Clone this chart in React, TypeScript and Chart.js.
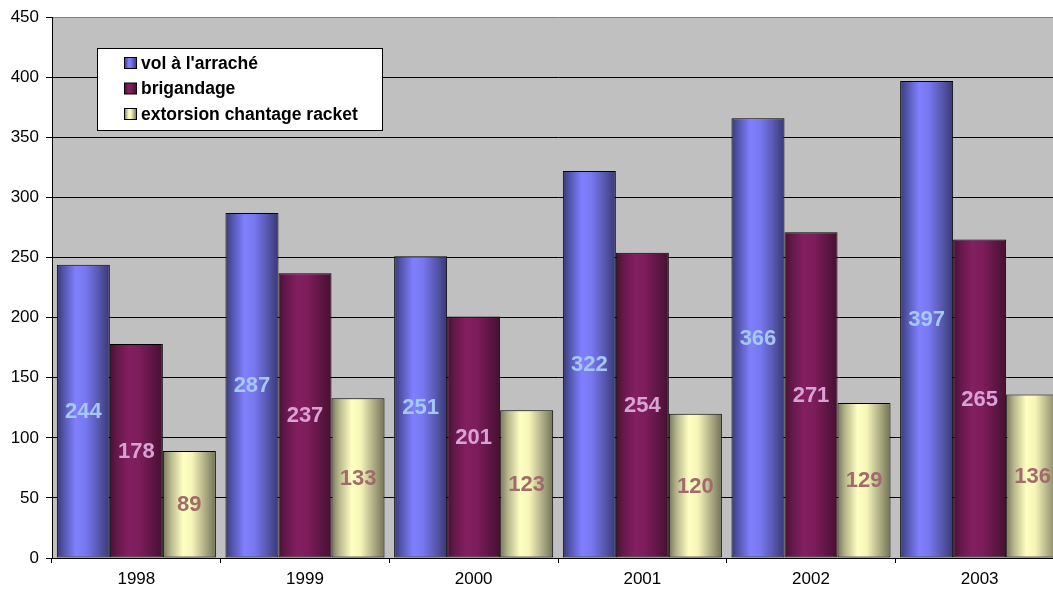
import React, { useEffect, useRef } from "react";
import { Chart, registerables } from "chart.js";

Chart.register(...registerables);

const years = ["1998", "1999", "2000", "2001", "2002", "2003"];
const seriesNames = ["vol à l'arraché", "brigandage", "extorsion chantage racket"];
const volArrache = [244, 287, 251, 322, 366, 397];
const brigandage = [178, 237, 201, 254, 271, 265];
const extorsion = [89, 133, 123, 120, 129, 136];
const yTicks = [0, 50, 100, 150, 200, 250, 300, 350, 400, 450];

const gradStops: [number, string][][] = [
  [[0, "#393b78"], [0.14, "#5557b0"], [0.36, "#8080ff"], [0.55, "#7777ee"], [0.8, "#5656ad"], [1, "#383872"]],
  [[0, "#481131"], [0.14, "#65184a"], [0.36, "#831f60"], [0.55, "#7d1d5b"], [0.8, "#5e1644"], [1, "#461030"]],
  [[0, "#76765a"], [0.14, "#b4b48a"], [0.38, "#ffffc2"], [0.55, "#f5f5b8"], [0.8, "#acac84"], [1, "#727256"]],
];
const labelColors = ["#a4c8f4", "#d8a2d6", "#a26a6c"];

const makeGrad = (ctx: CanvasRenderingContext2D, x0: number, x1: number, i: number) => {
  const g = ctx.createLinearGradient(x0, 0, x1, 0);
  gradStops[i].forEach(([o, c]) => g.addColorStop(o, c));
  return g;
};

const FONT = "'Liberation Sans', Arial, sans-serif";

const bgPlugin = {
  id: "bg",
  beforeDraw(chart: any) {
    const { ctx, chartArea: a } = chart;
    ctx.save();
    ctx.fillStyle = "#c0c0c0";
    ctx.fillRect(a.left, a.top, a.right - a.left, a.bottom - a.top);
    ctx.restore();
  },
};

const gradPlugin = {
  id: "grad",
  beforeDatasetsDraw(chart: any) {
    const ctx = chart.ctx;
    chart.data.datasets.forEach((_: any, di: number) => {
      const meta = chart.getDatasetMeta(di);
      meta.data.forEach((el: any) => {
        const x0 = el.x - el.width / 2;
        const x1 = el.x + el.width / 2;
        el.options = { ...el.options, backgroundColor: makeGrad(ctx, x0, x1, di) };
      });
    });
  },
};

const labelPlugin = {
  id: "vlabels",
  afterDatasetsDraw(chart: any) {
    const ctx = chart.ctx;
    ctx.save();
    ctx.font = `bold 22px ${FONT}`;
    ctx.textAlign = "center";
    ctx.textBaseline = "middle";
    chart.data.datasets.forEach((ds: any, di: number) => {
      const meta = chart.getDatasetMeta(di);
      ctx.fillStyle = labelColors[di];
      meta.data.forEach((el: any, i: number) => {
        ctx.fillText(String(ds.data[i]), el.x, (el.y + el.base) / 2 + 1);
      });
    });
    ctx.restore();
  },
};

const legendPlugin = {
  id: "boxLegend",
  afterDraw(chart: any) {
    const ctx = chart.ctx;
    ctx.save();
    const bx = 97.5, by = 48.5, bw = 285, bh = 82;
    ctx.fillStyle = "#ffffff";
    ctx.fillRect(bx, by, bw, bh);
    ctx.strokeStyle = "#000000";
    ctx.lineWidth = 1;
    ctx.strokeRect(bx, by, bw, bh);
    ctx.font = `bold 17.5px ${FONT}`;
    ctx.textBaseline = "middle";
    ctx.textAlign = "left";
    seriesNames.forEach((name, i) => {
      const cy = 63 + i * 25.5;
      const sx = 124.5, sy = cy - 5.5, sw = 12, sh = 11;
      ctx.fillStyle = makeGrad(ctx, sx, sx + sw, i);
      ctx.fillRect(sx, sy, sw, sh);
      ctx.strokeStyle = "#000";
      ctx.strokeRect(sx, sy, sw, sh);
      ctx.fillStyle = "#000";
      ctx.fillText(name, 141, cy + 1);
    });
    ctx.restore();
  },
};

export default function App() {
  const ref = useRef<HTMLCanvasElement>(null);
  useEffect(() => {
    if (!ref.current) return;
    const chart = new Chart(ref.current, {
      type: "bar",
      data: {
        labels: years,
        datasets: [
          { label: seriesNames[0], data: volArrache },
          { label: seriesNames[1], data: brigandage },
          { label: seriesNames[2], data: extorsion },
        ].map((d) => ({
          ...d,
          backgroundColor: "#888",
          borderColor: "#000",
          borderWidth: 1,
          borderSkipped: false,
          categoryPercentage: 0.943,
          barPercentage: 1,
        })),
      },
      options: {
        responsive: false,
        animation: false,
        layout: { padding: { top: 17, right: 0, bottom: 0, left: 0 } },
        plugins: { legend: { display: false }, tooltip: { enabled: false } },
        scales: {
          x: {
            offset: true,
            grid: {
              offset: true,
              drawOnChartArea: false,
              drawTicks: true,
              tickLength: 5,
              tickColor: "#000",
            },
            border: { display: true, color: "#000", width: 1 },
            ticks: { color: "#000", font: { family: FONT, size: 17 }, padding: 6 },
            afterFit: (s: any) => {
              s.height = 35;
            },
          },
          y: {
            min: 0,
            max: 450,
            afterBuildTicks: (s: any) => {
              s.ticks = yTicks.map((v) => ({ value: v }));
            },
            grid: {
              color: (c: any) => (c.tick && c.tick.value === 450 ? "#808080" : "#000"),
              lineWidth: 1,
              drawTicks: true,
              tickLength: 6,
              tickColor: "#000",
            },
            border: { display: true, color: "#000", width: 1 },
            ticks: { color: "#000", font: { family: FONT, size: 17 }, padding: 7 },
            afterFit: (s: any) => {
              s.width = 52;
            },
          },
        },
      },
      plugins: [bgPlugin, gradPlugin, labelPlugin, legendPlugin],
    });
    return () => chart.destroy();
  }, []);
  return (
    <div
      style={{
        position: "fixed",
        left: 0,
        top: 0,
        width: 1053,
        height: 593,
        overflow: "hidden",
        background: "#fff",
      }}
    >
      <canvas ref={ref} width={1064} height={593} style={{ width: 1064, height: 593, display: "block" }} />
    </div>
  );
}
